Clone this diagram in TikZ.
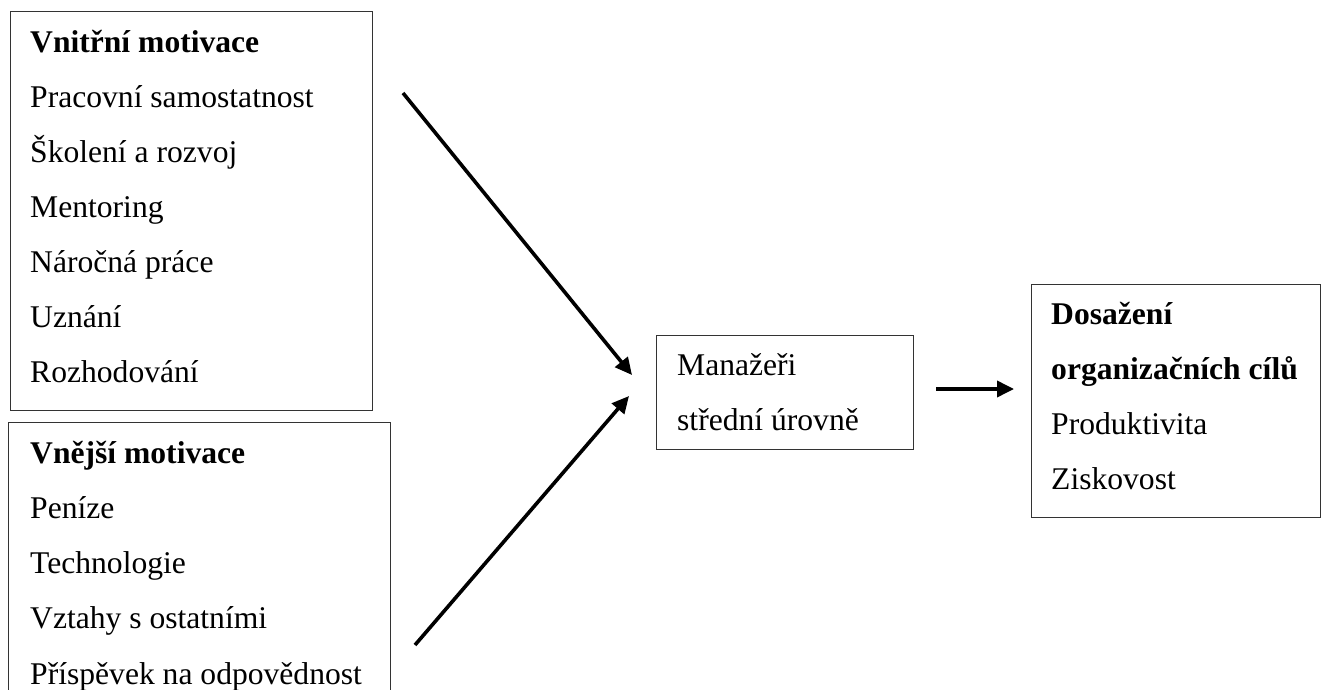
\documentclass[tikz,border=0pt]{standalone}
\usepackage{fontspec}
\setmainfont{Liberation Serif}
\usetikzlibrary{arrows.meta}
\begin{document}
\begin{tikzpicture}[x=1pt,y=-1pt,
  boxframe/.style={draw=black!80, line width=1.3pt, inner sep=0pt, anchor=north west},
  txt/.style={anchor=base west, inner sep=0pt, font=\fontsize{31.6}{38}\selectfont},
  btxt/.style={anchor=base west, inner sep=0pt, font=\fontsize{31.6}{38}\selectfont\bfseries},
  flow/.style={line width=3.6pt, -{Triangle[length=17pt,width=16pt]}}]
\useasboundingbox (0,0) rectangle (1326,690);
\clip (0,0) rectangle (1326,690);

% boxes
\node[boxframe, minimum width=362pt, minimum height=399pt] (intr) at (10,11) {};
\node[boxframe, minimum width=382pt, minimum height=290pt] (extr) at (8,422) {};
\node[boxframe, minimum width=257pt, minimum height=114pt] (mgr) at (656,335) {};
\node[boxframe, minimum width=289pt, minimum height=233pt] (goal) at (1031,284) {};

% box 1 text
\node[btxt] (i0) at (30,52.3) {Vnitřní motivace};
\node[txt] (i1) at (30,107.3) {Pracovní samostatnost};
\node[txt] (i2) at (30,162.3) {Školení a rozvoj};
\node[txt] (i3) at (30,217.3) {Mentoring};
\node[txt] (i4) at (30,272.3) {Náročná práce};
\node[txt] (i5) at (30,327.3) {Uznání};
\node[txt] (i6) at (30,382.3) {Rozhodování};

% box 2 text
\node[btxt] (e0) at (30,463) {Vnější motivace};
\node[txt] (e1) at (30,518) {Peníze};
\node[txt] (e2) at (30,573) {Technologie};
\node[txt] (e3) at (30,628) {Vztahy s ostatními};
\node[txt] (e4) at (30,684) {Příspěvek na odpovědnost};

% middle box text
\node[txt] (m0) at (677,375) {Manažeři};
\node[txt] (m1) at (677,430) {střední úrovně};

% right box text
\node[btxt] (g0) at (1051,324) {Dosažení};
\node[btxt] (g1) at (1051,379) {organizačních cílů};
\node[txt] (g2) at (1051,434) {Produktivita};
\node[txt] (g3) at (1051,489) {Ziskovost};

% arrows
\coordinate (a1s) at (403,93);
\coordinate (a1e) at (632,375);
\coordinate (a2s) at (415,645);
\coordinate (a2e) at (629,396);
\coordinate (a3s) at (936,389);
\coordinate (a3e) at (1014,389);
\draw[flow] (a1s) -- (a1e);
\draw[flow] (a2s) -- (a2e);
\draw[flow] (a3s) -- (a3e);
\end{tikzpicture}
\end{document}
